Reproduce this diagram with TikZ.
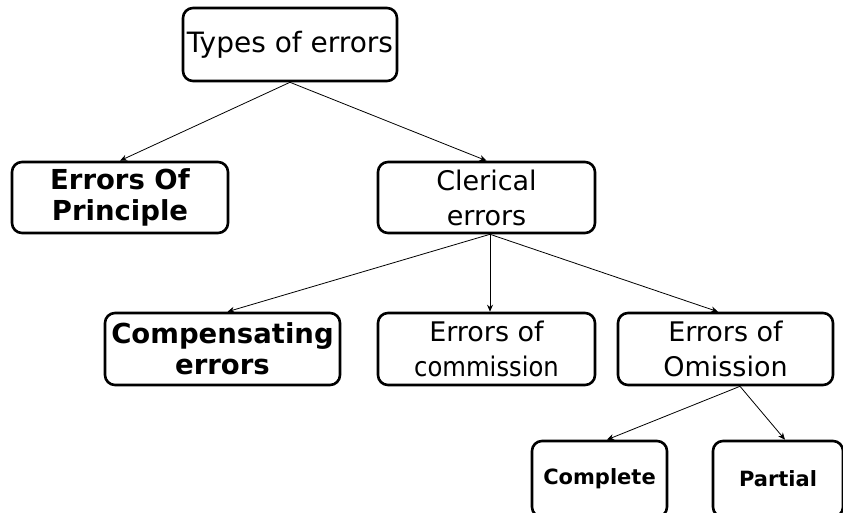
\documentclass[tikz,border=0pt]{standalone}
\usepackage{fontspec}
\setmainfont{DejaVu Sans}
\newfontfamily\narrowfont[FakeStretch=0.9]{DejaVu Sans}
\usetikzlibrary{arrows.meta}
\tikzset{
  box/.style={draw, line width=2.6pt, rounded corners=10pt, inner sep=0pt, align=center},
  reg/.style={font=\fontsize{27}{35}\selectfont},
  bld/.style={font=\fontsize{27.5}{31}\selectfont\bfseries},
  sml/.style={font=\fontsize{21}{25}\selectfont\bfseries},
  conn/.style={-{Stealth[length=7pt,width=6pt]}, line width=0.8pt},
}
\begin{document}
\begin{tikzpicture}[x=1pt,y=-1pt]
\useasboundingbox (0,0) rectangle (843,512);
\clip (0,0) rectangle (843,512);
\node[box, minimum width=214pt, minimum height=73pt, font=\fontsize{28}{35}\selectfont] (top) at (290,44.5) {Types of errors};
\node[box, bld, minimum width=216pt, minimum height=71pt] (eop) at (120,197.5) {Errors Of\\Principle};
\node[box, reg, minimum width=217pt, minimum height=71pt] (cler) at (486.5,197.5) {Clerical\\errors};
\node[box, bld, minimum width=235pt, minimum height=72pt] (comp) at (222.5,349) {Compensating\\errors};
\node[box, reg, minimum width=217pt, minimum height=72pt] (comm) at (486.5,349) {Errors of\\{\narrowfont commission}};
\node[box, reg, minimum width=215pt, minimum height=72pt] (omis) at (725.5,349) {Errors of\\Omission};
\node[box, sml, minimum width=135pt, minimum height=76pt] (compl) at (599.5,479) {Complete};
\node[box, sml, minimum width=130pt, minimum height=76pt] (part) at (778,479) {Partial};

\draw[conn] (top.south) -- (eop.north);
\draw[conn] (top.south) -- (cler.north);
\draw[conn] ([xshift=3.5pt]cler.south) -- ([xshift=5pt]comp.north);
\draw[conn] ([xshift=3.5pt]cler.south) -- ([xshift=3.5pt]comm.north);
\draw[conn] ([xshift=3.5pt]cler.south) -- ([xshift=-7.5pt]omis.north);
\draw[conn] ([xshift=14.5pt]omis.south) -- ([xshift=7.5pt]compl.north);
\draw[conn] ([xshift=14.5pt]omis.south) -- ([xshift=7pt]part.north);
\end{tikzpicture}
\end{document}
